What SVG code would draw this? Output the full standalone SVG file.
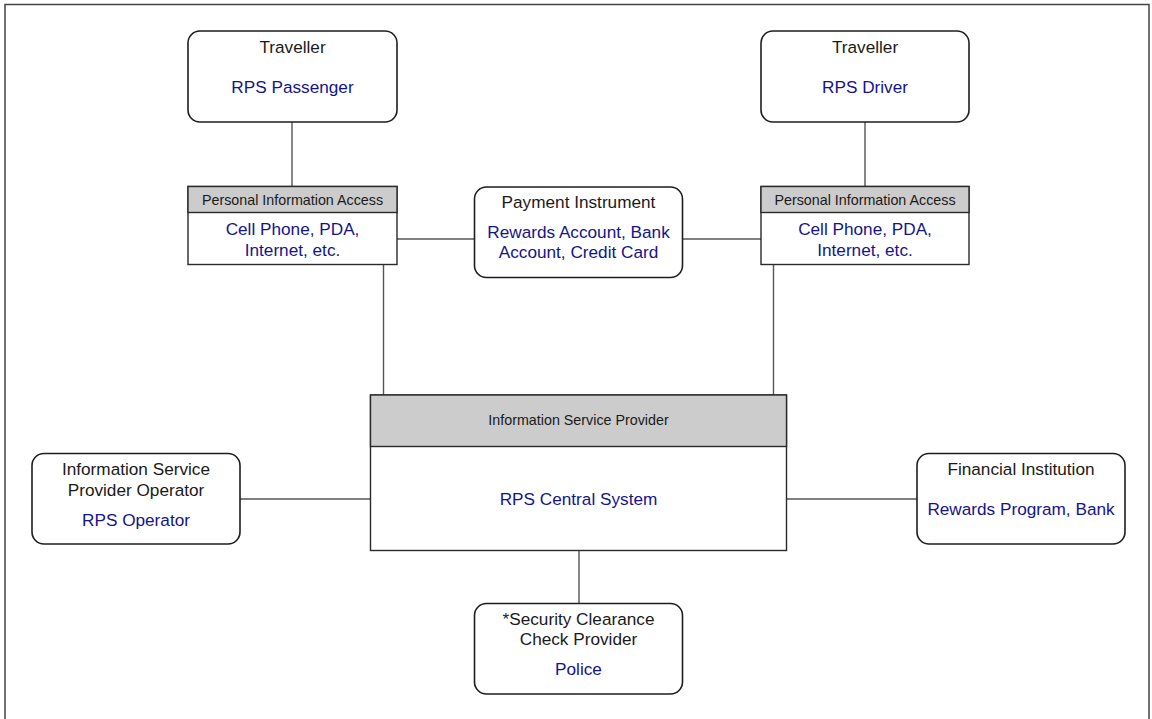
<svg xmlns="http://www.w3.org/2000/svg" width="1152" height="719" viewBox="0 0 1152 719">
<style>
.box{fill:#fff;stroke:#1e1e1e;stroke-width:1.6}
.hdr{fill:#cccccc;stroke:#2a2a2a;stroke-width:1.4}
.sq{fill:#fff;stroke:#2a2a2a;stroke-width:1.4}
.c{stroke:#555;stroke-width:1.4;fill:none}
text{font-family:"Liberation Sans",Arial,sans-serif;text-anchor:middle}
.t{font-size:17.2px;fill:#1a1a1a}
.b{font-size:17.2px;fill:#14148c}
.h{font-size:14.3px;fill:#1a1a1a}
</style>
<rect x="5" y="4.5" width="1144" height="730" fill="#fff" stroke="#444" stroke-width="1.5"/>
<g id="connectors">
<line class="c" x1="292" y1="122" x2="292" y2="186.5"/>
<line class="c" x1="865" y1="122" x2="865" y2="186.5"/>
<line class="c" x1="397" y1="239" x2="474" y2="239"/>
<line class="c" x1="683" y1="239" x2="761" y2="239"/>
<line class="c" x1="383.5" y1="264.5" x2="383.5" y2="395"/>
<line class="c" x1="773.5" y1="264.5" x2="773.5" y2="395"/>
<line class="c" x1="240" y1="499" x2="370.5" y2="499"/>
<line class="c" x1="786.5" y1="499" x2="917" y2="499"/>
<line class="c" x1="579" y1="550.5" x2="579" y2="603.5"/>
</g>
<g id="traveller-passenger">
<rect class="box" x="188" y="31" width="209" height="91" rx="12"/>
<text class="t" x="292.5" y="52.5">Traveller</text>
<text class="b" x="292.5" y="92.5">RPS Passenger</text>
</g>
<g id="traveller-driver">
<rect class="box" x="761" y="31" width="208" height="91" rx="12"/>
<text class="t" x="865" y="52.5">Traveller</text>
<text class="b" x="865" y="92.5">RPS Driver</text>
</g>
<g id="pia-left">
<rect class="sq" x="188" y="186.5" width="209" height="78"/>
<rect class="hdr" x="188" y="186.5" width="209" height="26"/>
<text class="h" x="292.5" y="204.5">Personal Information Access</text>
<text class="b" x="292.5" y="235">Cell Phone, PDA,</text>
<text class="b" x="292.5" y="255.5">Internet, etc.</text>
</g>
<g id="pia-right">
<rect class="sq" x="761" y="186.5" width="208" height="78"/>
<rect class="hdr" x="761" y="186.5" width="208" height="26"/>
<text class="h" x="865" y="204.5">Personal Information Access</text>
<text class="b" x="865" y="235">Cell Phone, PDA,</text>
<text class="b" x="865" y="255.5">Internet, etc.</text>
</g>
<g id="payment-instrument">
<rect class="box" x="474.5" y="187" width="208" height="90.5" rx="12"/>
<text class="t" x="578.5" y="208">Payment Instrument</text>
<text class="b" x="578.5" y="237.5">Rewards Account, Bank</text>
<text class="b" x="578.5" y="257.5">Account, Credit Card</text>
</g>
<g id="isp">
<rect class="sq" x="370.5" y="395" width="416" height="155.5"/>
<rect class="hdr" x="370.5" y="395" width="416" height="51.5"/>
<text class="h" x="578.5" y="425">Information Service Provider</text>
<text class="b" x="578.5" y="504.5">RPS Central System</text>
</g>
<g id="isp-operator">
<rect class="box" x="32" y="453.5" width="208" height="90.5" rx="12"/>
<text class="t" x="136" y="475">Information Service</text>
<text class="t" x="136" y="496">Provider Operator</text>
<text class="b" x="136" y="525.5">RPS Operator</text>
</g>
<g id="financial-institution">
<rect class="box" x="917" y="453.5" width="208" height="90.5" rx="12"/>
<text class="t" x="1021" y="475">Financial Institution</text>
<text class="b" x="1021" y="515">Rewards Program, Bank</text>
</g>
<g id="security-clearance">
<rect class="box" x="474.5" y="603.5" width="208" height="90.5" rx="12"/>
<text class="t" x="578.5" y="624.5">*Security Clearance</text>
<text class="t" x="578.5" y="645">Check Provider</text>
<text class="b" x="578.5" y="675">Police</text>
</g>
</svg>
